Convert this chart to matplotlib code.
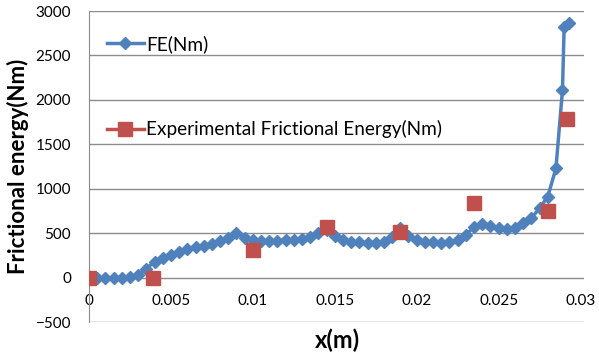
import matplotlib
matplotlib.use("Agg")
import matplotlib.pyplot as plt
from matplotlib.lines import Line2D

# FE (simulation) curve
fe_x = [0, 0.0005, 0.001, 0.0015, 0.002, 0.0025, 0.003, 0.0035, 0.004, 0.0045,
        0.005, 0.0055, 0.006, 0.0065, 0.007, 0.0075, 0.008, 0.0085, 0.009, 0.0095,
        0.01, 0.0105, 0.011, 0.0115, 0.012, 0.0125, 0.013, 0.0135, 0.014, 0.0145,
        0.015, 0.0155, 0.016, 0.0165, 0.017, 0.0175, 0.018, 0.0185, 0.019, 0.0195,
        0.02, 0.0205, 0.021, 0.0215, 0.022, 0.0225, 0.023, 0.0235, 0.024, 0.0245,
        0.025, 0.0255, 0.026, 0.0265, 0.027, 0.0275, 0.028, 0.0285, 0.0289, 0.029,
        0.0293]
fe_y = [0, -10, -10, -5, 0, 10, 30, 100, 180, 220,
        250, 290, 320, 340, 360, 380, 410, 450, 500, 450,
        420, 410, 410, 415, 420, 420, 430, 460, 500, 540,
        470, 420, 400, 395, 390, 390, 395, 460, 560, 470,
        420, 400, 395, 390, 395, 420, 480, 570, 600, 580,
        560, 550, 560, 610, 670, 780, 910, 1230, 2110, 2820,
        2870]

# experimental points
exp_x = [0, 0.0039, 0.01, 0.0145, 0.019, 0.0235, 0.028, 0.0292]
exp_y = [0, 0, 305, 565, 510, 835, 745, 1785]

yticks = [-500, 0, 500, 1000, 1500, 2000, 2500, 3000]
xticks = [0, 0.005, 0.01, 0.015, 0.02, 0.025, 0.03]
xtick_labels = ["0", "0.005", "0.01", "0.015", "0.02", "0.025", "0.03"]

blue = "#4F81BD"
red = "#C0504D"

plt.rcParams["font.family"] = ["Lato", "DejaVu Sans"]

fig = plt.figure(figsize=(5.99, 3.56), dpi=100)
ax = fig.add_axes([0.1486, 0.0955, 0.826, 0.8735])

ax.plot(fe_x, fe_y, color=blue, lw=2.5, marker="D", ms=6.5, zorder=3)
ax.plot(exp_x, exp_y, ls="none", color=red, marker="s", ms=10, zorder=4)

ax.set_xlim(0, 0.0302)
ax.set_ylim(-500, 3000)
ax.set_yticks(yticks)
ax.set_xticks(xticks)
ax.set_xticklabels(xtick_labels)
ax.yaxis.grid(True, color="#8c8c8c", lw=1)
ax.set_axisbelow(True)

for s in ["top", "right"]:
    ax.spines[s].set_visible(False)
ax.spines["left"].set_color("#8c8c8c")
ax.spines["bottom"].set_position(("data", 0))
ax.spines["bottom"].set_visible(False)
ax.tick_params(axis="both", length=0, labelsize=11, labelcolor="black")
ax.tick_params(axis="y", pad=13)
ax.tick_params(axis="x", pad=12)

ax.set_ylabel("Frictional energy(Nm)", fontsize=16, fontweight="bold", labelpad=5)
fig.text(0.563, 0.045, "x(m)", fontsize=17, fontweight="bold",
         ha="center", va="center")

handles = [
    Line2D([], [], color=blue, lw=2.5, marker="D", ms=6.5),
    Line2D([], [], color=red, lw=2.5, marker="s", ms=10),
]
labels = ["FE(Nm)", "Experimental Frictional Energy(Nm)"]
ax.legend(handles, labels, loc="center left", bbox_to_anchor=(0.036, 0.757),
          frameon=False, fontsize=13.7, handlelength=1.95, handletextpad=0.1,
          labelspacing=3.55, borderpad=0, borderaxespad=0)

fig.savefig("out.png", dpi=100)
